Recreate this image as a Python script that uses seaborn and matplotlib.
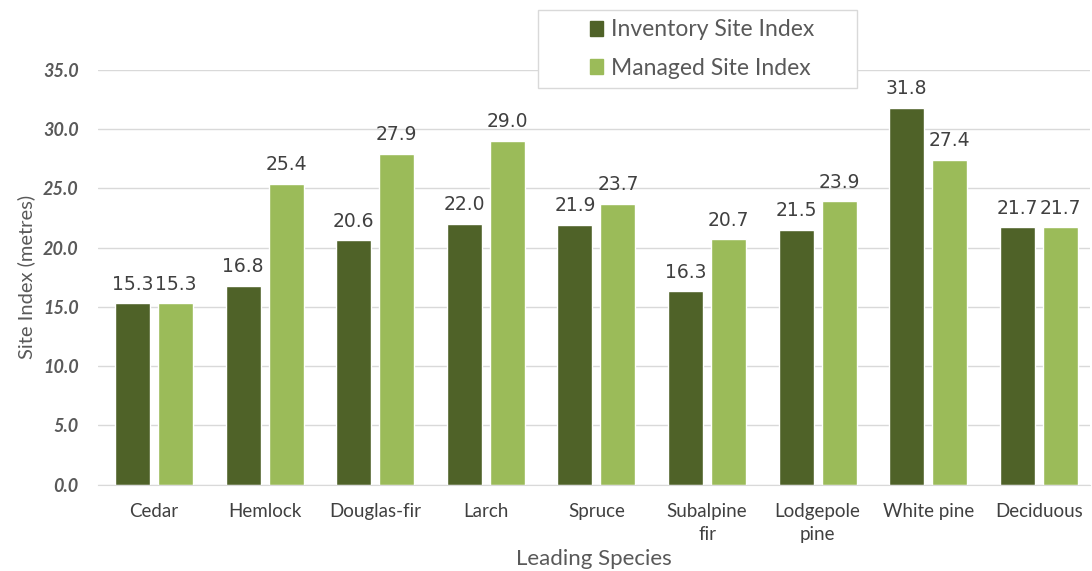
import pandas as pd
import numpy as np
import seaborn as sns
import matplotlib.pyplot as plt
from matplotlib.patches import Rectangle

# dados
species = ['Cedar', 'Hemlock', 'Douglas-fir', 'Larch', 'Spruce',
           'Subalpine\nfir', 'Lodgepole\npine', 'White pine', 'Deciduous']
inventory_si = [15.3, 16.8, 20.6, 22.0, 21.9, 16.3, 21.5, 31.8, 21.7]
managed_si = [15.3, 25.4, 27.9, 29.0, 23.7, 20.7, 23.9, 27.4, 21.7]
series = ['Inventory Site Index', 'Managed Site Index']
cores = ['#4F6228', '#9BBB59']

df = pd.DataFrame({
    'Species': species * 2,
    'SI': inventory_si + managed_si,
    'Serie': [series[0]] * len(species) + [series[1]] * len(species),
})

sns.set_style('white')
plt.rcParams['font.family'] = ['Lato', 'DejaVu Sans']

fig = plt.figure(figsize=(10.92, 5.71), dpi=100)
ax = fig.add_axes([0.09, 0.151, 0.908, 0.727])

sns.barplot(data=df, x='Species', y='SI', hue='Serie', palette=cores,
            saturation=1, width=0.777, gap=0.186, ax=ax, legend=False)

for cont in ax.containers:
    ax.bar_label(cont, fmt='%.1f', padding=7, fontsize=13.5,
                 color='#404040', family='DejaVu Sans')

ax.set_ylim(0, 35)
ax.set_yticks(np.arange(0, 35.1, 5))
ax.set_yticklabels([f'{v:.1f}' for v in np.arange(0, 35.1, 5)],
                   style='italic', weight='bold', fontsize=13, color='#595959')
ax.tick_params(axis='x', labelsize=13.5, labelcolor='#404040', pad=13, length=0)
ax.tick_params(axis='y', length=0, pad=14)
for t in ax.get_xticklabels():
    t.set_linespacing(1.45)
ax.yaxis.grid(True, color='#D9D9D9', linewidth=1)
ax.set_axisbelow(True)
for s in ['top', 'right', 'left']:
    ax.spines[s].set_visible(False)
ax.spines['bottom'].set_color('#D9D9D9')
ax.set_xlim(-0.504, 8.461)

ax.set_xlabel('Leading Species', fontsize=16, color='#595959', labelpad=4)
ax.set_ylabel('Site Index (metres)', fontsize=14.5, color='#595959', labelpad=6)

# legenda dentro de uma caixa mais larga
caixa = Rectangle((0.4927, 0.8459), 0.2921, 0.1366, transform=fig.transFigure,
                  facecolor='white', edgecolor='#D9D9D9', linewidth=1, zorder=5)
fig.patches.append(caixa)
handles = [plt.Rectangle((0, 0), 1, 1, color=c) for c in cores]
leg = fig.legend(handles, series, loc='center',
                 bbox_to_anchor=(0.643, 0.9142), fontsize=16.5,
                 handlelength=0.6, handleheight=0.6, handletextpad=0.35,
                 labelspacing=0.75, frameon=False, labelcolor='#595959')
leg.set_zorder(6)

plt.savefig('out.png', dpi=100)
